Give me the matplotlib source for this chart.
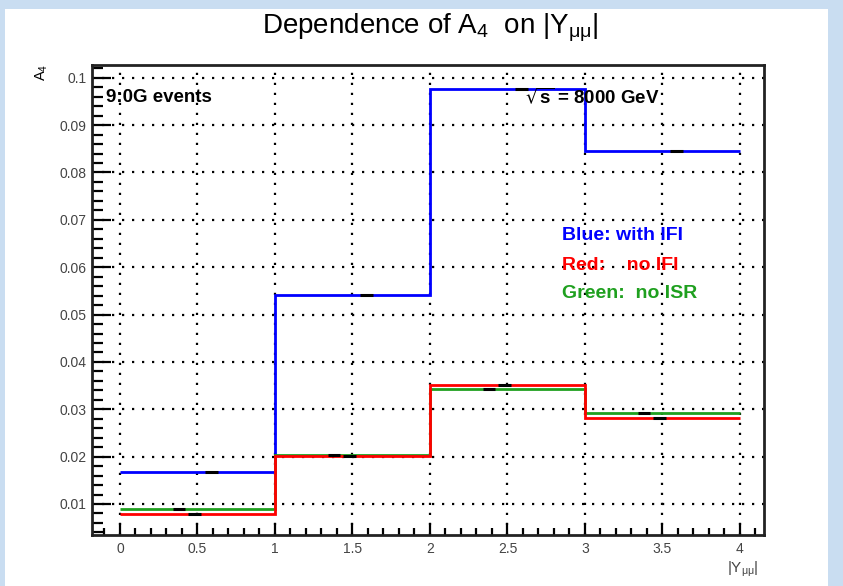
import matplotlib
matplotlib.use("Agg")
import matplotlib.pyplot as plt
from matplotlib.patches import Rectangle
from matplotlib.ticker import MultipleLocator, FixedLocator
import numpy as np

plt.rcParams['font.family'] = ['Liberation Sans', 'DejaVu Sans']
plt.rcParams['mathtext.default'] = 'regular'

# bin edges in |Y_mumu| and A4 per bin
edges = np.array([0, 1, 2, 3, 4])
a4_blue = np.array([0.0167, 0.0542, 0.0976, 0.0845])   # with IFI
a4_red = np.array([0.0079, 0.0202, 0.0352, 0.0281])    # no IFI
a4_green = np.array([0.0089, 0.0203, 0.0342, 0.0292])  # no ISR

x_ticks = [0, 0.5, 1, 1.5, 2, 2.5, 3, 3.5, 4]
x_ticklabels = ['0', '0.5', '1', '1.5', '2', '2.5', '3', '3.5', '4']
y_ticks = [0.01, 0.02, 0.03, 0.04, 0.05, 0.06, 0.07, 0.08, 0.09, 0.1]
y_ticklabels = ['0.01', '0.02', '0.03', '0.04', '0.05', '0.06', '0.07', '0.08', '0.09', '0.1']

fig = plt.figure(figsize=(8.43, 5.86), dpi=100)
fig.patch.set_facecolor('#c9ddf1')
fig.patches.append(Rectangle((5 / 843, 0), 823 / 843, 1 - 9 / 586, transform=fig.transFigure,
                             facecolor='white', edgecolor='none', zorder=-5))

ax = fig.add_axes([92 / 843, 1 - 535 / 586, 672 / 843, 470 / 586])
ax.set_zorder(2)
ax.set_xlim(-0.18, 4.155)
ax.set_ylim(0.00345, 0.1027)

ax.grid(True, which='major', color='black', linestyle=(0, (1, 3.5)), linewidth=1.6)
ax.set_axisbelow(True)

centers = 0.5 * (edges[:-1] + edges[1:])
ax.stairs(a4_blue, edges, color='#0000ff', linewidth=2, baseline=None, zorder=3)
ax.stairs(a4_green, edges, color='#1fa01f', linewidth=2, baseline=None, zorder=3)
ax.stairs(a4_red, edges, color='#ff0000', linewidth=2, baseline=None, zorder=3)

# tiny error bars
ax.hlines(a4_green, centers - 0.16, centers - 0.08, color='black', linewidth=2.2, zorder=4)
ax.hlines(a4_red, centers - 0.06, centers + 0.02, color='black', linewidth=2.2, zorder=4)
ax.hlines(a4_blue, centers + 0.05, centers + 0.13, color='black', linewidth=2.2, zorder=4)

ax.xaxis.set_major_locator(FixedLocator(x_ticks))
ax.set_xticklabels(x_ticklabels)
ax.xaxis.set_minor_locator(MultipleLocator(0.1))
ax.yaxis.set_major_locator(FixedLocator(y_ticks))
ax.set_yticklabels(y_ticklabels)
ax.yaxis.set_minor_locator(MultipleLocator(0.002))

ax.tick_params(axis='x', which='major', direction='in', length=9, width=1.6, top=False,
               labelsize=10, labelcolor='#444444', pad=5)
ax.tick_params(axis='x', which='minor', direction='in', length=5, width=1.6, top=False)
ax.tick_params(axis='y', which='major', direction='in', length=14, width=1.6, right=False,
               labelsize=10, labelcolor='#444444', pad=4)
ax.tick_params(axis='y', which='minor', direction='in', length=8, width=1.6, right=False)
for s in ax.spines.values():
    s.set_linewidth(2)
    s.set_color('#222222')

fig.text(430 / 843, 1 - 28 / 586, r'Dependence of A$_4$  on |Y$_{\mu\mu}$|', ha='center', va='center',
         fontsize=20)
fig.text(42 / 843, 1 - 64 / 586, r'A$_4$', rotation=90, ha='center', va='top', fontsize=10.5)
fig.text(743 / 843, 1 - 560 / 586, r'|Y$_{\mu\mu}$|', ha='center', va='top', fontsize=11,
         color='#444444')

fig.text(106 / 843, 1 - 97 / 586, '9:0G events', ha='left', va='center', fontsize=13.5,
         fontweight='bold')
fig.text(525 / 843, 1 - 97 / 586, r'$\sqrt{s}$ = 8000 GeV', ha='left', va='center', fontsize=13.5,
         fontweight='bold')
fig.text(562 / 843, 1 - 235 / 586, 'Blue: with IFI', ha='left', va='center', fontsize=14,
         fontweight='bold', color='#0000ff')
fig.text(562 / 843, 1 - 265 / 586, 'Red:    no IFI', ha='left', va='center', fontsize=14,
         fontweight='bold', color='#ff0000')
fig.text(562 / 843, 1 - 294 / 586, 'Green:  no ISR', ha='left', va='center', fontsize=14,
         fontweight='bold', color='#1fa01f')

fig.savefig('out.png', dpi=100, facecolor=fig.get_facecolor())
